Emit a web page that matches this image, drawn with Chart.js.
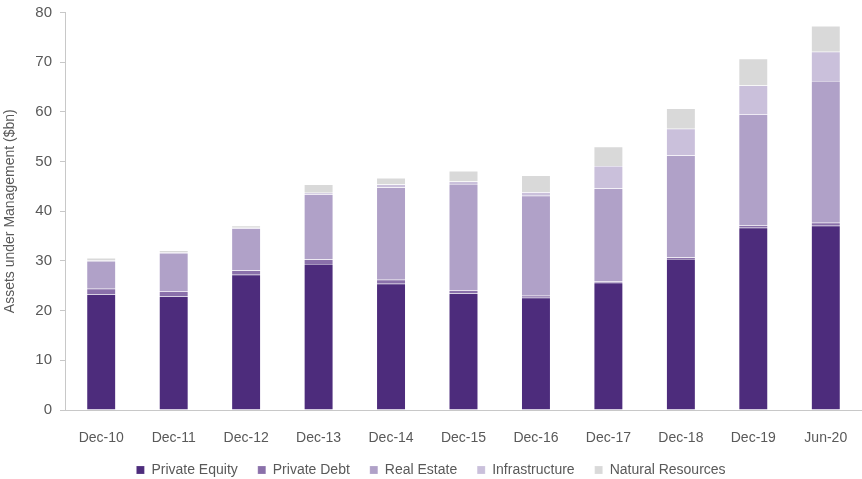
<!DOCTYPE html>
<html>
<head>
<meta charset="utf-8">
<script src="https://cdn.jsdelivr.net/npm/chart.js@4"></script>
<style>
  html, body { margin: 0; padding: 0; background: #fff; }
  #wrap { width: 862px; height: 479px; }
</style>
</head>
<body>
<div id="wrap"><canvas id="aumChart" width="862" height="479"></canvas></div>
<script>
var labels = ["Dec-10", "Dec-11", "Dec-12", "Dec-13", "Dec-14", "Dec-15", "Dec-16", "Dec-17", "Dec-18", "Dec-19", "Jun-20"];
var privateEquity = [23.3, 22.9, 27.2, 29.4, 25.4, 23.5, 22.6, 25.6, 30.4, 36.7, 37.1];
var privateDebt = [1.1, 1.0, 0.9, 0.9, 0.8, 0.6, 0.4, 0.3, 0.3, 0.5, 0.6];
var realEstate = [5.6, 7.7, 8.5, 13.1, 18.6, 21.4, 20.1, 18.7, 20.5, 22.3, 28.5];
var infrastructure = [0.1, 0.1, 0.1, 0.3, 0.6, 0.5, 0.7, 4.5, 5.4, 5.8, 5.9];
var naturalResources = [0.5, 0.4, 0.4, 1.7, 1.3, 2.1, 3.4, 3.9, 4.1, 5.4, 5.2];
var yTicks = [0, 10, 20, 30, 40, 50, 60, 70, 80];

var fontFamily = "'Liberation Sans', Arial, sans-serif";
var textColor = "#595959";

function series(label, data, color) {
  return {
    label: label,
    data: data,
    backgroundColor: color,
    borderColor: "rgba(255,255,255,0.35)",
    borderWidth: 0.5,
    barPercentage: 0.8,
    categoryPercentage: 0.5
  };
}

// legend keeps wide item spacing but takes less height
var legendHeight = {
  id: "legendHeight",
  afterInit: function (chart) {
    var legend = chart.legend;
    var fit = legend.fit;
    legend.fit = function () {
      fit.call(this);
      this.height = 36;
    };
  }
};

var ctx = document.getElementById("aumChart").getContext("2d");
var chart = new Chart(ctx, {
  type: "bar",
  data: {
    labels: labels,
    datasets: [
      series("Private Equity", privateEquity, "#4d2c7c"),
      series("Private Debt", privateDebt, "#8a70aa"),
      series("Real Estate", realEstate, "#b0a1c8"),
      series("Infrastructure", infrastructure, "#cac0db"),
      series("Natural Resources", naturalResources, "#d9d9d9")
    ]
  },
  plugins: [legendHeight],
  options: {
    responsive: false,
    animation: false,
    layout: { padding: { top: 0, right: 0, left: 0, bottom: 0 } },
    plugins: {
      tooltip: { enabled: false },
      legend: {
        position: "bottom",
        labels: {
          boxWidth: 8,
          boxHeight: 8,
          padding: 20,
          color: textColor,
          font: { family: fontFamily, size: 14 }
        }
      }
    },
    scales: {
      x: {
        stacked: true,
        afterFit: function (scale) { scale.height = 33; },
        grid: { display: false },
        border: { display: true, color: "#c8c8c8", width: 1 },
        ticks: {
          color: textColor,
          padding: 12,
          maxRotation: 0,
          font: { family: fontFamily, size: 14 }
        }
      },
      y: {
        stacked: true,
        min: 0,
        max: 80,
        afterBuildTicks: function (scale) {
          scale.ticks = yTicks.map(function (v) { return { value: v }; });
        },
        afterFit: function (scale) { scale.width = 65; },
        grid: {
          drawOnChartArea: false,
          drawTicks: true,
          tickLength: 5,
          color: "#c8c8c8"
        },
        border: { display: true, color: "#c8c8c8", width: 1 },
        ticks: {
          color: textColor,
          padding: 8,
          font: { family: fontFamily, size: 15, lineHeight: 0.6 }
        },
        title: {
          display: true,
          text: "Assets under Management ($bn)",
          color: textColor,
          padding: { top: 2, bottom: 0 },
          font: { family: fontFamily, size: 14 }
        }
      }
    }
  }
});
</script>
</body>
</html>
